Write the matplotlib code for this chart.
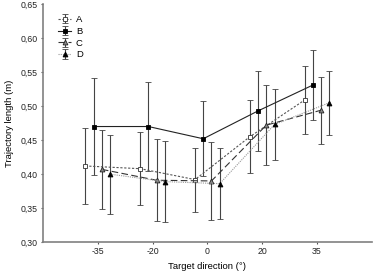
import matplotlib.pyplot as plt
import numpy as np

plt.rcParams['font.family'] = ['Liberation Sans', 'DejaVu Sans']

directions = ['-35', '-20', '0', '20', '35']
yticks = [0.30, 0.35, 0.40, 0.45, 0.50, 0.55, 0.60, 0.65]

mean_a = [0.412, 0.408, 0.392, 0.455, 0.509]
err_a = [0.056, 0.054, 0.047, 0.054, 0.050]
mean_b = [0.470, 0.470, 0.452, 0.493, 0.531]
err_b = [0.072, 0.065, 0.055, 0.059, 0.051]
mean_c = [0.407, 0.391, 0.390, 0.472, 0.494]
err_c = [0.058, 0.060, 0.057, 0.059, 0.049]
mean_d = [0.400, 0.389, 0.386, 0.473, 0.505]
err_d = [0.058, 0.059, 0.052, 0.052, 0.047]

series = [
    ('A', mean_a, err_a, -0.225, dict(ls=(0, (2, 1.5)), color='#555555', marker='s', mfc='white', mec='#333333')),
    ('B', mean_b, err_b, -0.075, dict(ls='-', color='#222222', marker='s', mfc='black', mec='black')),
    ('C', mean_c, err_c, 0.075, dict(ls=(0, (6, 3)), color='#333333', marker='^', mfc='#888888', mec='#222222')),
    ('D', mean_d, err_d, 0.225, dict(ls=(0, (1, 1)), color='#999999', marker='^', mfc='black', mec='black')),
]

fig = plt.figure(figsize=(3.76, 2.73), dpi=100)
ax = fig.add_axes([0.114, 0.113, 0.875, 0.872])

x = np.arange(1, len(directions) + 1)
for name, m, e, off, st in series:
    ax.errorbar(x + off, m, yerr=e, label=name, lw=0.8, ms=3.5, mew=0.6,
                ecolor='#444444', elinewidth=0.8, capsize=2.5, capthick=0.8, **st)

ax.set_xlim(0, 6)
ax.set_ylim(0.30, 0.65)
ax.set_xticks(x)
ax.set_xticklabels(directions)
ax.set_yticks(yticks)
ax.set_yticklabels([f'{v:.2f}'.replace('.', ',') for v in yticks])
ax.tick_params(labelsize=6.3, length=1.5, width=0.8, pad=2, color='#555555', labelcolor='#222222')
for s in ['top', 'right']:
    ax.spines[s].set_visible(False)
for s in ['left', 'bottom']:
    ax.spines[s].set_color('#808080')
    ax.spines[s].set_linewidth(1.2)

ax.set_xlabel('Target direction (°)', fontsize=6.8, labelpad=4)
ax.set_ylabel('Trajectory length (m)', fontsize=6.8, labelpad=5)

ax.legend(loc='upper left', bbox_to_anchor=(0.02, 0.99), frameon=False, fontsize=6.8,
          handlelength=1.4, labelspacing=0.3, handletextpad=0.5)

fig.savefig('out.png', dpi=100)
